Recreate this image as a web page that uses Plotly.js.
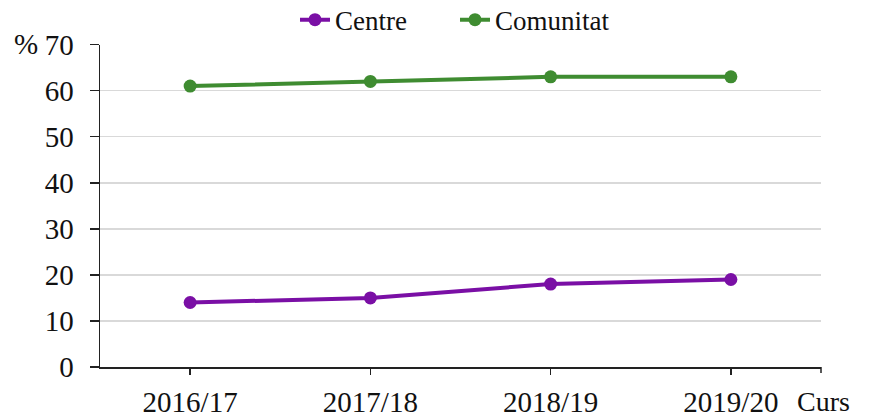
<!DOCTYPE html>
<html><head><meta charset="utf-8">
<script src="https://cdn.plot.ly/plotly-3.0.1.min.js"></script>
<style>html,body{margin:0;padding:0;background:#fff}#c{width:870px;height:419px}</style>
</head><body><div id="c"></div>
<script>
const categories = ["2016/17", "2017/18", "2018/19", "2019/20"];
const centre = [14, 15, 18, 19];
const comunitat = [61, 62, 63, 63];
const yTicks = [0, 10, 20, 30, 40, 50, 60, 70];

const FONT = "Liberation Serif, Times New Roman, serif";
const TXT = "#111";
const traces = [
  {x: categories, y: centre, name: "Centre", type: "scatter", mode: "lines+markers",
   line: {color: "#7A0FA5", width: 4}, marker: {color: "#7A0FA5", size: 13}},
  {x: categories, y: comunitat, name: "Comunitat", type: "scatter", mode: "lines+markers",
   line: {color: "#3F8C31", width: 4}, marker: {color: "#3F8C31", size: 13}}
];
const layout = {
  width: 870, height: 419,
  margin: {l: 100, r: 49, t: 42, b: 52},
  paper_bgcolor: "#fff", plot_bgcolor: "#fff",
  font: {family: FONT, size: 29, color: TXT},
  showlegend: true,
  legend: {orientation: "h", xref: "container", yref: "container",
           x: 295 / 870, xanchor: "left", y: 0.952, yanchor: "middle",
           entrywidth: 115, entrywidthmode: "pixels",
           font: {family: FONT, size: 27, color: TXT}, tracegroupgap: 0,
           bgcolor: "rgba(0,0,0,0)"},
  xaxis: {type: "category", range: [-0.5, 3.5], showgrid: false, zeroline: false,
          showline: true, linecolor: "#222", linewidth: 1.5,
          ticks: "outside", ticklen: 6, tickwidth: 1.5, tickcolor: "#222",
          ticklabelstandoff: 3,
          tickfont: {family: FONT, size: 29, color: TXT}, fixedrange: true},
  yaxis: {range: [0, 70], tickvals: yTicks, showgrid: true, gridcolor: "#d9d9d9", gridwidth: 1.5,
          zeroline: false, showline: true, linecolor: "#222", linewidth: 1.5,
          ticks: "outside", ticklen: 9, tickwidth: 1.5, tickcolor: "#222",
          ticklabelstandoff: 10,
          tickfont: {family: FONT, size: 29, color: TXT}, fixedrange: true},
  shapes: [
    {type: "line", xref: "paper", yref: "paper", x0: 1, x1: 1, y0: 0, y1: -0.0185,
     line: {color: "#222", width: 1.5}}
  ],
  annotations: [
    {text: "%", xref: "paper", yref: "paper", x: 0, y: 1.0, xanchor: "left", yanchor: "middle",
     xshift: -88, yshift: 1, showarrow: false, font: {family: FONT, size: 29, color: TXT}},
    {text: "Curs", xref: "paper", yref: "paper", x: 1.0, y: 0, xanchor: "left", yanchor: "bottom",
     xshift: -25, yshift: -51, borderpad: 0, showarrow: false, font: {family: FONT, size: 28, color: TXT}}
  ]
};
Plotly.newPlot("c", traces, layout, {displayModeBar: false, staticPlot: true});
</script></body></html>
